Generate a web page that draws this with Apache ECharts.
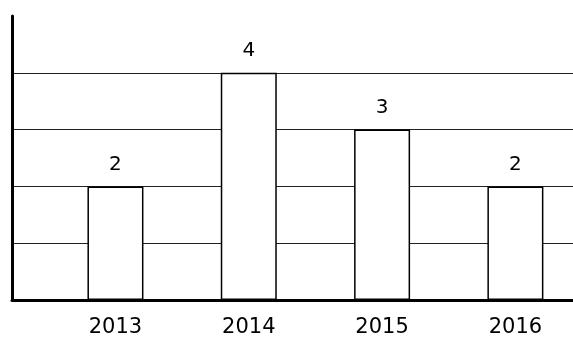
<!DOCTYPE html>
<html>
<head>
<meta charset="utf-8">
<script src="https://cdn.jsdelivr.net/npm/echarts@6/dist/echarts.min.js"></script>
<style>
  html, body { margin: 0; padding: 0; background: #fff; }
  #chart { width: 573px; height: 341px; }
</style>
</head>
<body>
<div id="chart"></div>
<script>
// Yearly counts
const years = [2013, 2014, 2015, 2016];
const counts = [2, 4, 3, 2];

const chart = echarts.init(document.getElementById('chart'));
const FONT = 'DejaVu Sans';

chart.setOption({
  animation: false,
  backgroundColor: '#ffffff',
  grid: { left: 12, right: 0, top: 16, bottom: 41 },
  xAxis: {
    type: 'value',
    min: 2012.224,
    max: 2016.432,
    axisLine: { show: true, onZero: false, lineStyle: { color: '#000', width: 3 } },
    axisTick: { show: false },
    splitLine: { show: false },
    axisLabel: {
      customValues: years,
      formatter: v => String(v),
      color: '#000',
      fontFamily: FONT,
      fontSize: 21,
      margin: 17
    }
  },
  yAxis: {
    type: 'value',
    min: 0,
    max: 5,
    interval: 1,
    axisLine: { show: true, lineStyle: { color: '#000', width: 3 } },
    axisTick: { show: false },
    axisLabel: { show: false },
    splitLine: { show: true, showMaxLine: false, lineStyle: { color: '#222', width: 1.2 } }
  },
  series: [{
    type: 'bar',
    data: years.map((y, i) => [y, counts[i]]),
    barWidth: 56,
    itemStyle: { color: '#ffffff', borderColor: '#000', borderWidth: 1.5 },
    label: {
      show: true,
      position: 'top',
      distance: 12,
      formatter: p => String(p.value[1]),
      color: '#000',
      fontFamily: FONT,
      fontSize: 20
    }
  }]
});
</script>
</body>
</html>
